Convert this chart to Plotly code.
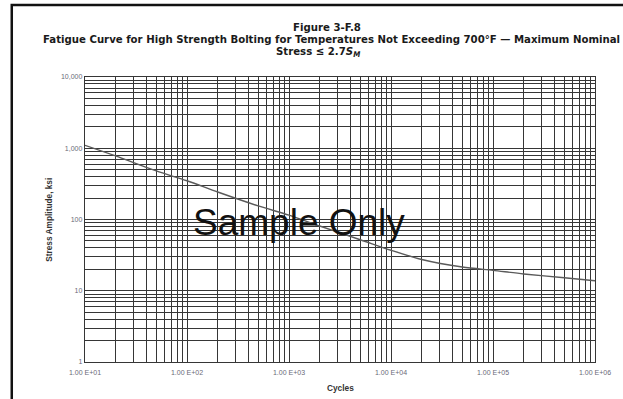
import plotly.graph_objects as go

# Design fatigue curve, high strength bolting, max nominal stress <= 2.7 Sm
cycles = [1e1, 2e1, 5e1, 1e2, 2e2, 5e2, 1e3, 2e3, 5e3, 1e4, 2e4, 5e4, 1e5, 2e5, 5e5, 1e6]
stress_ksi = [1100, 780, 480, 350, 243, 155, 115, 81, 52, 37, 27.5, 21.5, 19.3, 17.2, 15.2, 13.8]

x_decades = [1e1, 1e2, 1e3, 1e4, 1e5, 1e6]
x_labels = ["1.00 E+01", "1.00 E+02", "1.00 E+03", "1.00 E+04", "1.00 E+05", "1.00 E+06"]
y_decades = [1, 10, 100, 1000, 10000]
y_labels = ["1", "10", "100", "1,000", "10,000"]


def in_between(decades):
    """The 2..9 multiples inside each decade, for the minor grid."""
    return [d * m for d in decades[:-1] for m in range(2, 10)]


GRID = "#363636"
GRID_W = 1.4
TICK_FONT = dict(family="Liberation Sans, Arial, sans-serif", size=7, color="#6a6a78")
HEAD_FONT = "Liberation Sans Narrow, DejaVu Sans Condensed, Arial Narrow, sans-serif"
AXIS_FONT = dict(family="Liberation Sans, Arial, sans-serif", size=8.3, color="#333")

fig = go.Figure()
fig.add_trace(go.Scatter(
    x=cycles, y=stress_ksi, mode="lines",
    line=dict(color="#5a5a5a", width=1.4, shape="spline", smoothing=0.8),
    hoverinfo="skip", showlegend=False,
))

fig.update_xaxes(
    type="log", range=[1, 6],
    tickmode="array", tickvals=x_decades, ticktext=x_labels, tickangle=0,
    showgrid=True, gridcolor=GRID, gridwidth=GRID_W,
    minor=dict(tickmode="array", tickvals=in_between(x_decades), showgrid=True,
               gridcolor=GRID, gridwidth=GRID_W, ticks=""),
    showline=True, linecolor=GRID, linewidth=GRID_W, mirror=True,
    ticks="", tickfont=TICK_FONT, zeroline=False, ticklabelstandoff=3,
)
fig.update_yaxes(
    type="log", range=[0, 4],
    tickmode="array", tickvals=y_decades, ticktext=y_labels,
    showgrid=True, gridcolor=GRID, gridwidth=GRID_W,
    minor=dict(tickmode="array", tickvals=in_between(y_decades), showgrid=True,
               gridcolor=GRID, gridwidth=GRID_W, ticks=""),
    showline=True, linecolor=GRID, linewidth=GRID_W, mirror=True,
    ticks="", tickfont=TICK_FONT, zeroline=False,
)

# three-line heading
heading = [
    ("<b>Figure 3-F.8</b>", 0.474, 1.172),
    ("<b>Fatigue Curve for High Strength Bolting for Temperatures Not Exceeding 700°F — Maximum Nominal</b>", 0.484, 1.130),
    ("<b>Stress ≤ 2.7<i>S<sub>M</sub></i></b>", 0.457, 1.088),
]
for text, xpos, ypos in heading:
    fig.add_annotation(text=text, xref="paper", yref="paper", x=xpos, y=ypos,
                       showarrow=False, xanchor="center", yanchor="middle",
                       font=dict(family=HEAD_FONT, size=11.3, color="#1a1a1a"))

fig.add_annotation(text="<b>Cycles</b>", xref="paper", yref="paper", x=0.5, y=-0.09,
                   showarrow=False, xanchor="center", yanchor="middle", font=AXIS_FONT)
fig.add_annotation(text="<b>Stress Amplitude, ksi</b>", xref="paper", yref="paper", x=-0.072, y=0.5,
                   textangle=-90, showarrow=False, xanchor="center", yanchor="middle", font=AXIS_FONT)
fig.add_annotation(text="Sample Only", xref="paper", yref="paper", x=0.42, y=0.49,
                   showarrow=False, xanchor="center", yanchor="middle",
                   font=dict(family="Liberation Sans, Arial, sans-serif", size=37, color="#111"))

# page frame
fig.add_shape(type="rect", xref="paper", yref="paper",
              x0=-0.1436, x1=1.3, y0=-0.5, y1=1.2526,
              line=dict(color="#111", width=2.5), layer="above")

fig.update_layout(
    width=623, height=399,
    margin=dict(l=85, r=26, t=77, b=37),
    paper_bgcolor="white", plot_bgcolor="white",
)

fig.write_html("out.html")
